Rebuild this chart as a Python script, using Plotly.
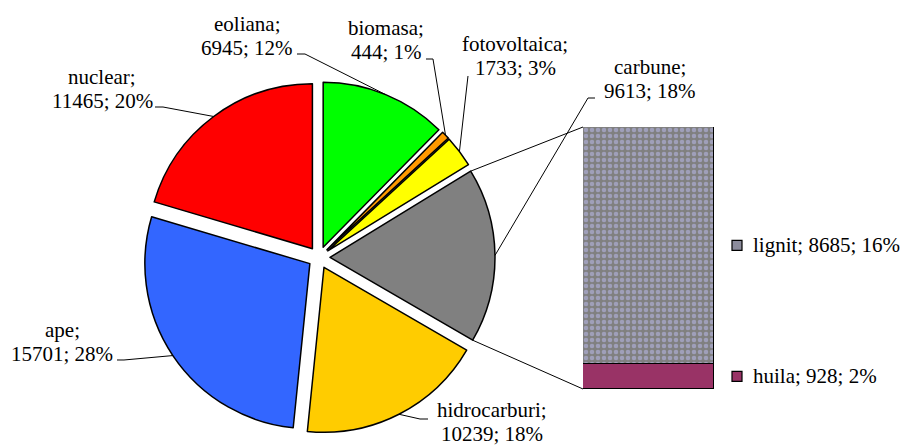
import math
import plotly.graph_objects as go

# pie: electricity production by source
sources = ["eoliana", "biomasa", "fotovoltaica", "carbune", "hidrocarburi", "ape", "nuclear"]
values = [6945, 444, 1733, 9613, 10239, 15701, 11465]
shares = ["12%", "1%", "3%", "18%", "18%", "28%", "20%"]
colors = ["#00FF00", "#FF9900", "#FFFF00", "#808080", "#FFCC00", "#3366FF", "#FF0000"]

# bar: split of "carbune"
coal_types = ["huila", "lignit"]
coal_values = [928, 8685]
coal_shares = ["2%", "16%"]
coal_colors = ["#993366", "#808080"]

W, H = 903, 448
FONT = dict(family="Liberation Serif", size=21, color="black")

# pie geometry in pixels
CX, CY, R, PULL = 319, 257.5, 165, 11
# bar box in pixels
BAR_LEFT, BAR_W, BAR_TOP, BAR_BOTTOM = 583, 131, 127, 389

# label: x centre, y of first line, leader elbow points (pixels)
LINE_GAP = 24
label_layout = {
    "eoliana": (247, 24, [(297, 54), (305, 54)]),
    "biomasa": (386, 28, [(426, 59), (433, 59)]),
    "fotovoltaica": (515, 44, [(468, 76)]),
    "carbune": (650, 67, [(595, 98), (588, 98)]),
    "hidrocarburi": (492, 410, [(428, 419), (420, 419)]),
    "ape": (62, 330, [(117, 360), (124, 360)]),
    "nuclear": (102, 77, [(155, 107), (163, 107)]),
}


def paper(x, y):
    return x / W, 1 - y / H


total = sum(values)
starts = []
acc = 0
for v in values:
    starts.append(acc / total * 360)
    acc += v


def slice_point(i, angle):
    mid = math.radians(starts[i] + values[i] / total * 180)
    a = math.radians(angle)
    bx = CX + PULL * math.sin(mid)
    by = CY - PULL * math.cos(mid)
    return bx + R * math.sin(a), by - R * math.cos(a)


pull_frac = PULL / R
half = R * (1 + pull_frac)

fig = go.Figure()

fig.add_trace(
    go.Pie(
        labels=sources,
        values=values,
        sort=False,
        direction="clockwise",
        rotation=0,
        pull=[pull_frac] * len(values),
        marker=dict(colors=colors, line=dict(color="black", width=1.5)),
        textinfo="none",
        hoverinfo="skip",
        showlegend=False,
        domain=dict(
            x=[(CX - half) / W, (CX + half) / W],
            y=[1 - (CY + half) / H, 1 - (CY - half) / H],
        ),
    )
)

coal_total = sum(coal_values)
x_max = -0.5 + (W - BAR_LEFT) / BAR_W
for name, v, c in zip(coal_types, coal_values, coal_colors):
    pattern = dict(shape="." if name == "lignit" else "", fgcolor="#BDBDF2",
                   size=6, solidity=0.45, fillmode="overlay")
    fig.add_trace(
        go.Bar(
            x=[0], y=[v], width=1, name=name,
            marker=dict(color=c, line=dict(color="black", width=1.5), pattern=pattern),
            hoverinfo="skip", showlegend=False,
        )
    )

# keys + labels next to the bar
mids = []
acc = 0
for v in coal_values:
    mids.append(acc + v / 2)
    acc += v
key_x = -0.5 + (737 - BAR_LEFT) / BAR_W
text_x = -0.5 + (751 - BAR_LEFT) / BAR_W
fig.add_trace(
    go.Scatter(
        x=[key_x] * len(mids), y=mids, mode="markers",
        marker=dict(symbol="square", size=10, color=["#993366", "#8C8C9C"],
                    line=dict(color="black", width=1.2)),
        hoverinfo="skip", showlegend=False, cliponaxis=False,
    )
)

annotations = []
for name, v, s, m in zip(coal_types, coal_values, coal_shares, mids):
    annotations.append(dict(
        x=text_x, y=m, xref="x", yref="y", text=f"{name}; {v}; {s}",
        showarrow=False, xanchor="left", yanchor="middle", font=FONT,
    ))

shapes = []
for i, (name, v, s) in enumerate(zip(sources, values, shares)):
    lx, ly, elbow = label_layout[name]
    for k, line in enumerate([f"{name};", f"{v}; {s}"]):
        px_, py_ = paper(lx, ly + k * LINE_GAP)
        annotations.append(dict(
            x=px_, y=py_, xref="paper", yref="paper", text=line,
            showarrow=False, xanchor="center", yanchor="middle", font=FONT,
        ))
    pts = elbow + [slice_point(i, starts[i] + values[i] / total * 180)]
    path = "M " + " L ".join(f"{paper(x, y)[0]:.5f},{paper(x, y)[1]:.5f}" for x, y in pts)
    shapes.append(dict(type="path", path=path, xref="paper", yref="paper",
                       line=dict(color="black", width=1)))

# connectors from the split slice to the bar
ci = sources.index("carbune")
p_top = slice_point(ci, starts[ci])
p_bot = slice_point(ci, starts[ci] + values[ci] / total * 360)
for (x0, y0), (x1, y1) in [(p_top, (BAR_LEFT, BAR_TOP)), (p_bot, (BAR_LEFT, BAR_BOTTOM))]:
    a0, b0 = paper(x0, y0)
    a1, b1 = paper(x1, y1)
    shapes.append(dict(type="line", x0=a0, y0=b0, x1=a1, y1=b1, xref="paper", yref="paper",
                       line=dict(color="black", width=1)))

fig.update_layout(
    width=W, height=H,
    margin=dict(l=0, r=0, t=0, b=0),
    paper_bgcolor="white", plot_bgcolor="rgba(0,0,0,0)",
    barmode="stack", bargap=0,
    xaxis=dict(domain=[BAR_LEFT / W, 1], range=[-0.5, x_max], visible=False, fixedrange=True),
    yaxis=dict(domain=[1 - BAR_BOTTOM / H, 1 - BAR_TOP / H], range=[0, coal_total],
               visible=False, fixedrange=True),
    annotations=annotations,
    shapes=shapes,
    font=FONT,
)

# drop the browser's default 8px body margin so the figure sits at the page corner
fig.write_html("out.html", config={"displayModeBar": False},
               post_script="document.body.style.margin='0px';")
